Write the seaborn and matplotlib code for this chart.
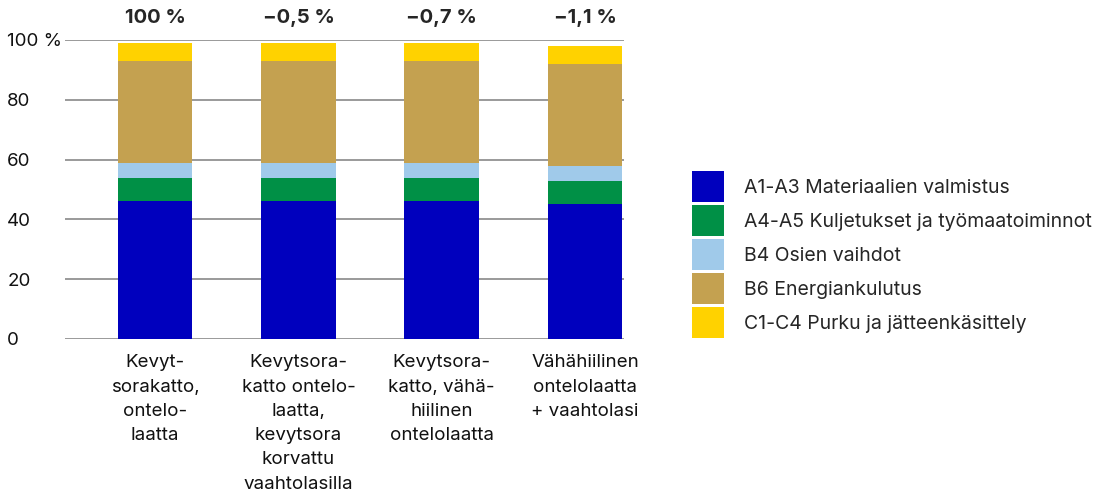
import numpy as np
import pandas as pd
import matplotlib
matplotlib.use("Agg")
import matplotlib.pyplot as plt
from matplotlib.patches import Patch
import seaborn as sns

# data
categories = [
    "Kevyt-\nsorakatto,\nontelo-\nlaatta",
    "Kevytsora-\nkatto ontelo-\nlaatta,\nkevytsora\nkorvattu\nvaahtolasilla",
    "Kevytsora-\nkatto, vähä-\nhiilinen\nontelolaatta",
    "Vähähiilinen\nontelolaatta\n+ vaahtolasi",
]
change_labels = ["100 %", "\u22120,5 %", "\u22120,7 %", "\u22121,1 %"]
stages = [
    "A1-A3 Materiaalien valmistus",
    "A4-A5 Kuljetukset ja työmaatoiminnot",
    "B4 Osien vaihdot",
    "B6 Energiankulutus",
    "C1-C4 Purku ja jätteenkäsittely",
]
a1_a3 = [46, 46, 46, 45]
a4_a5 = [8, 8, 8, 8]
b4 = [5, 5, 5, 5]
b6 = [34, 34, 34, 34]
c1_c4 = [6, 6, 6, 6]
colors = ["#0000be", "#009046", "#a0caea", "#c4a150", "#ffd200"]
y_ticks = [0, 20, 40, 60, 80, 100]
y_tick_labels = ["0", "20", "40", "60", "80", "100 %"]

sns.set_theme(style="white")
plt.rcParams["font.family"] = ["Inter", "DejaVu Sans"]
plt.rcParams["font.size"] = 13.5

df = pd.DataFrame(
    {"kohde": categories, stages[0]: a1_a3, stages[1]: a4_a5,
     stages[2]: b4, stages[3]: b6, stages[4]: c1_c4}
)
cum = df[stages].cumsum(axis=1)

fig, ax = plt.subplots(figsize=(10.96, 4.92), dpi=100)
fig.subplots_adjust(left=0.0593, right=0.569, top=0.9187, bottom=0.311)

for y in y_ticks:
    ax.axhline(y, color="#9a9a9a", lw=1.4, zorder=0)

# stacked bars: draw cumulative tops from highest to lowest
for stage, col in reversed(list(zip(stages, colors))):
    sns.barplot(x=df["kohde"], y=cum[stage], color=col, width=0.52,
                saturation=1, linewidth=0, ax=ax, zorder=2)

for i, lab in enumerate(change_labels):
    ax.text(i, 107.3, lab, ha="center", va="center", fontsize=14.5,
            fontweight="bold", clip_on=False)

ax.set_ylim(0, 100)
ax.set_xlim(-0.63, 3.27)
ax.set_yticks(y_ticks)
ax.set_yticklabels(y_tick_labels)
ax.set_xlabel("")
ax.set_ylabel("")
ax.tick_params(axis="y", length=0, pad=41.5, labelsize=13.5, colors="#111111")
ax.tick_params(axis="x", length=0, pad=11, labelsize=13.5, colors="#111111")
for t in ax.get_yticklabels():
    t.set_horizontalalignment("left")
for t in ax.get_xticklabels():
    t.set_linespacing(1.56)
sns.despine(ax=ax, left=True, bottom=True)

handles = [Patch(facecolor=c, edgecolor="none") for c in colors]
fig.legend(handles, stages, loc="upper left",
           bbox_to_anchor=(692 / 1096, 1 - 171 / 492), frameon=False,
           borderpad=0, borderaxespad=0, handlelength=1.65,
           handleheight=2.08, labelspacing=0.155, handletextpad=1.05,
           fontsize=14)

fig.savefig("out.png", dpi=100)
